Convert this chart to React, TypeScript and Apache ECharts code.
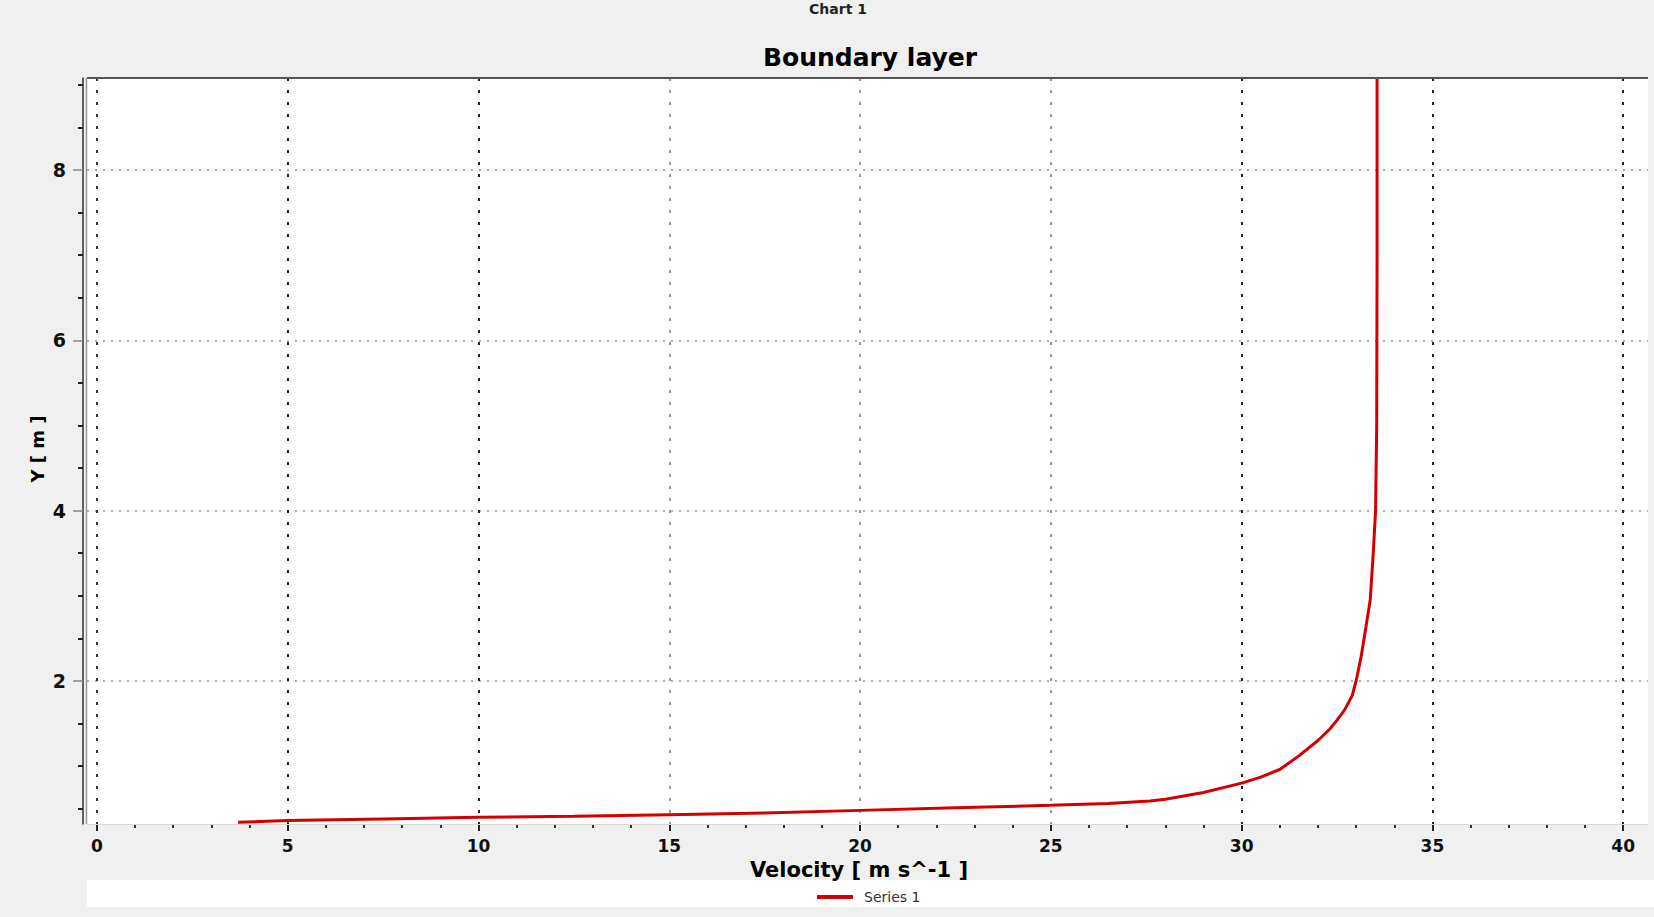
import React, { useEffect, useRef } from 'react';
import * as echarts from 'echarts';

// Data: velocity [m/s] vs height Y [m]
const VELOCITY = [3.7, 5, 7.5, 10, 12.5, 15, 17.5, 20, 22.5, 25, 26.5, 27.6, 28.0, 29.0, 30.0, 30.5, 31.0, 31.5, 32.0, 32.3, 32.5, 32.7, 32.9, 33.0, 33.13, 33.26, 33.37, 33.45, 33.51, 33.54, 33.55, 33.55];
const HEIGHT = [0.34, 0.36, 0.38, 0.4, 0.41, 0.43, 0.45, 0.48, 0.51, 0.54, 0.56, 0.59, 0.61, 0.69, 0.8, 0.87, 0.96, 1.12, 1.3, 1.43, 1.54, 1.66, 1.83, 2.0, 2.28, 2.64, 2.95, 3.5, 4.0, 5.0, 7.0, 9.08];

const X_MAJOR = [0, 5, 10, 15, 20, 25, 30, 35, 40];
const X_MINOR = [1, 2, 3, 4, 6, 7, 8, 9, 11, 12, 13, 14, 16, 17, 18, 19, 21, 22, 23, 24, 26, 27, 28, 29, 31, 32, 33, 34, 36, 37, 38, 39];
const Y_MAJOR = [2, 4, 6, 8];
const Y_MINOR = [0.5, 1, 1.5, 2.5, 3, 3.5, 4.5, 5, 5.5, 6.5, 7, 7.5, 8.5, 9];
const X_RANGE = [-0.26, 40.65];
const Y_RANGE = [0.32, 9.08];

const SERIES_NAME = 'Series 1';
const CHART_LABEL = 'Chart 1';
const TITLE = 'Boundary layer';
const X_NAME = 'Velocity [ m s^-1 ]';
const Y_NAME = 'Y [ m ]';

export default function App() {
  const ref = useRef<HTMLDivElement>(null);

  useEffect(() => {
    if (!ref.current) return;
    const chart = echarts.init(ref.current, null, { renderer: 'svg' });
    const font = 'DejaVu Sans';
    const data = VELOCITY.map((v, i) => [v, HEIGHT[i]]);

    chart.setOption({
      animation: false,
      backgroundColor: '#f0f0f0',
      grid: {
        left: 87,
        right: 6,
        top: 78,
        bottom: 93,
        show: true,
        backgroundColor: '#ffffff',
        borderWidth: 0,
      },
      xAxis: [
        {
          type: 'value',
          position: 'bottom',
          min: X_RANGE[0],
          max: X_RANGE[1],
          axisLine: { show: false, onZero: false },
          axisTick: {
            show: true,
            customValues: X_MAJOR,
            length: 7,
            lineStyle: { color: '#222', width: 2 },
          },
          axisLabel: {
            customValues: X_MAJOR,
            margin: 13,
            fontFamily: font,
            fontSize: 17,
            fontWeight: 'bold',
            color: '#111',
          },
          splitLine: {
            show: true,
            lineStyle: {
              type: [3, 9],
              width: 2,
              color: ['#333', '#222', '#222', '#999', '#999', '#999', '#222', '#222', '#222'],
            },
          },
        },
        {
          type: 'value',
          position: 'bottom',
          min: X_RANGE[0],
          max: X_RANGE[1],
          axisLine: { show: false, onZero: false },
          axisTick: {
            show: true,
            customValues: X_MINOR,
            length: 4,
            lineStyle: { color: '#333', width: 2 },
          },
          axisLabel: { show: false },
          splitLine: { show: false },
        },
      ],
      yAxis: [
        {
          type: 'value',
          position: 'left',
          offset: 4,
          min: Y_RANGE[0],
          max: Y_RANGE[1],
          axisLine: { show: true, onZero: false, lineStyle: { color: '#333', width: 1.5 } },
          axisTick: {
            show: true,
            customValues: Y_MAJOR,
            length: 10,
            lineStyle: { color: '#888', width: 1.5 },
          },
          axisLabel: {
            customValues: Y_MAJOR,
            margin: 17,
            fontFamily: font,
            fontSize: 19,
            fontWeight: 'bold',
            color: '#111',
          },
          splitLine: {
            show: true,
            lineStyle: { type: [2, 6], width: 2, color: '#b0b0b0' },
          },
        },
        {
          type: 'value',
          position: 'left',
          offset: 4,
          min: Y_RANGE[0],
          max: Y_RANGE[1],
          axisLine: { show: false, onZero: false },
          axisTick: {
            show: true,
            customValues: Y_MINOR,
            length: 5,
            lineStyle: { color: '#222', width: 2 },
          },
          axisLabel: { show: false },
          splitLine: { show: false },
        },
      ],
      legend: {
        data: [SERIES_NAME],
        left: 812,
        top: 885,
        icon: 'rect',
        itemWidth: 36,
        itemHeight: 4,
        textStyle: { fontFamily: font, fontSize: 14, color: '#333', padding: [0, 0, 0, 6] },
      },
      graphic: [
        { type: 'rect', z: -10, shape: { x: 87, y: 880, width: 1567, height: 27 }, style: { fill: '#ffffff' } },
        { type: 'line', z: 10, shape: { x1: 87, y1: 78, x2: 1648, y2: 78 }, style: { stroke: '#555', lineWidth: 2 } },
        { type: 'line', z: 10, shape: { x1: 86.5, y1: 78, x2: 86.5, y2: 824 }, style: { stroke: '#999', lineWidth: 1.5 } },
        { type: 'line', z: 10, shape: { x1: 87, y1: 824.5, x2: 1648, y2: 824.5 }, style: { stroke: '#d8d8d8', lineWidth: 1 } },
        {
          type: 'text', x: 838, y: 9,
          style: { text: CHART_LABEL, align: 'center', verticalAlign: 'middle', fontFamily: font, fontSize: 14, fontWeight: 'bold', fill: '#222' },
        },
        {
          type: 'text', x: 870, y: 57,
          style: { text: TITLE, align: 'center', verticalAlign: 'middle', fontFamily: font, fontSize: 25, fontWeight: 'bold', fill: '#000' },
        },
        {
          type: 'text', x: 859, y: 870,
          style: { text: X_NAME, align: 'center', verticalAlign: 'middle', fontFamily: font, fontSize: 21, fontWeight: 'bold', fill: '#000' },
        },
        {
          type: 'text', x: 37, y: 449, rotation: Math.PI / 2,
          style: { text: Y_NAME, align: 'center', verticalAlign: 'middle', fontFamily: font, fontSize: 18, fontWeight: 'bold', fill: '#000' },
        },
      ],
      series: [
        {
          name: SERIES_NAME,
          type: 'line',
          xAxisIndex: 0,
          yAxisIndex: 0,
          data,
          symbol: 'none',
          showSymbol: false,
          z: 5,
          lineStyle: { color: '#d40000', width: 3 },
          itemStyle: { color: '#d40000' },
        },
      ],
    });

    return () => chart.dispose();
  }, []);

  return (
    <div
      ref={ref}
      style={{ position: 'fixed', left: 0, top: 0, width: 1654, height: 917 }}
    />
  );
}
